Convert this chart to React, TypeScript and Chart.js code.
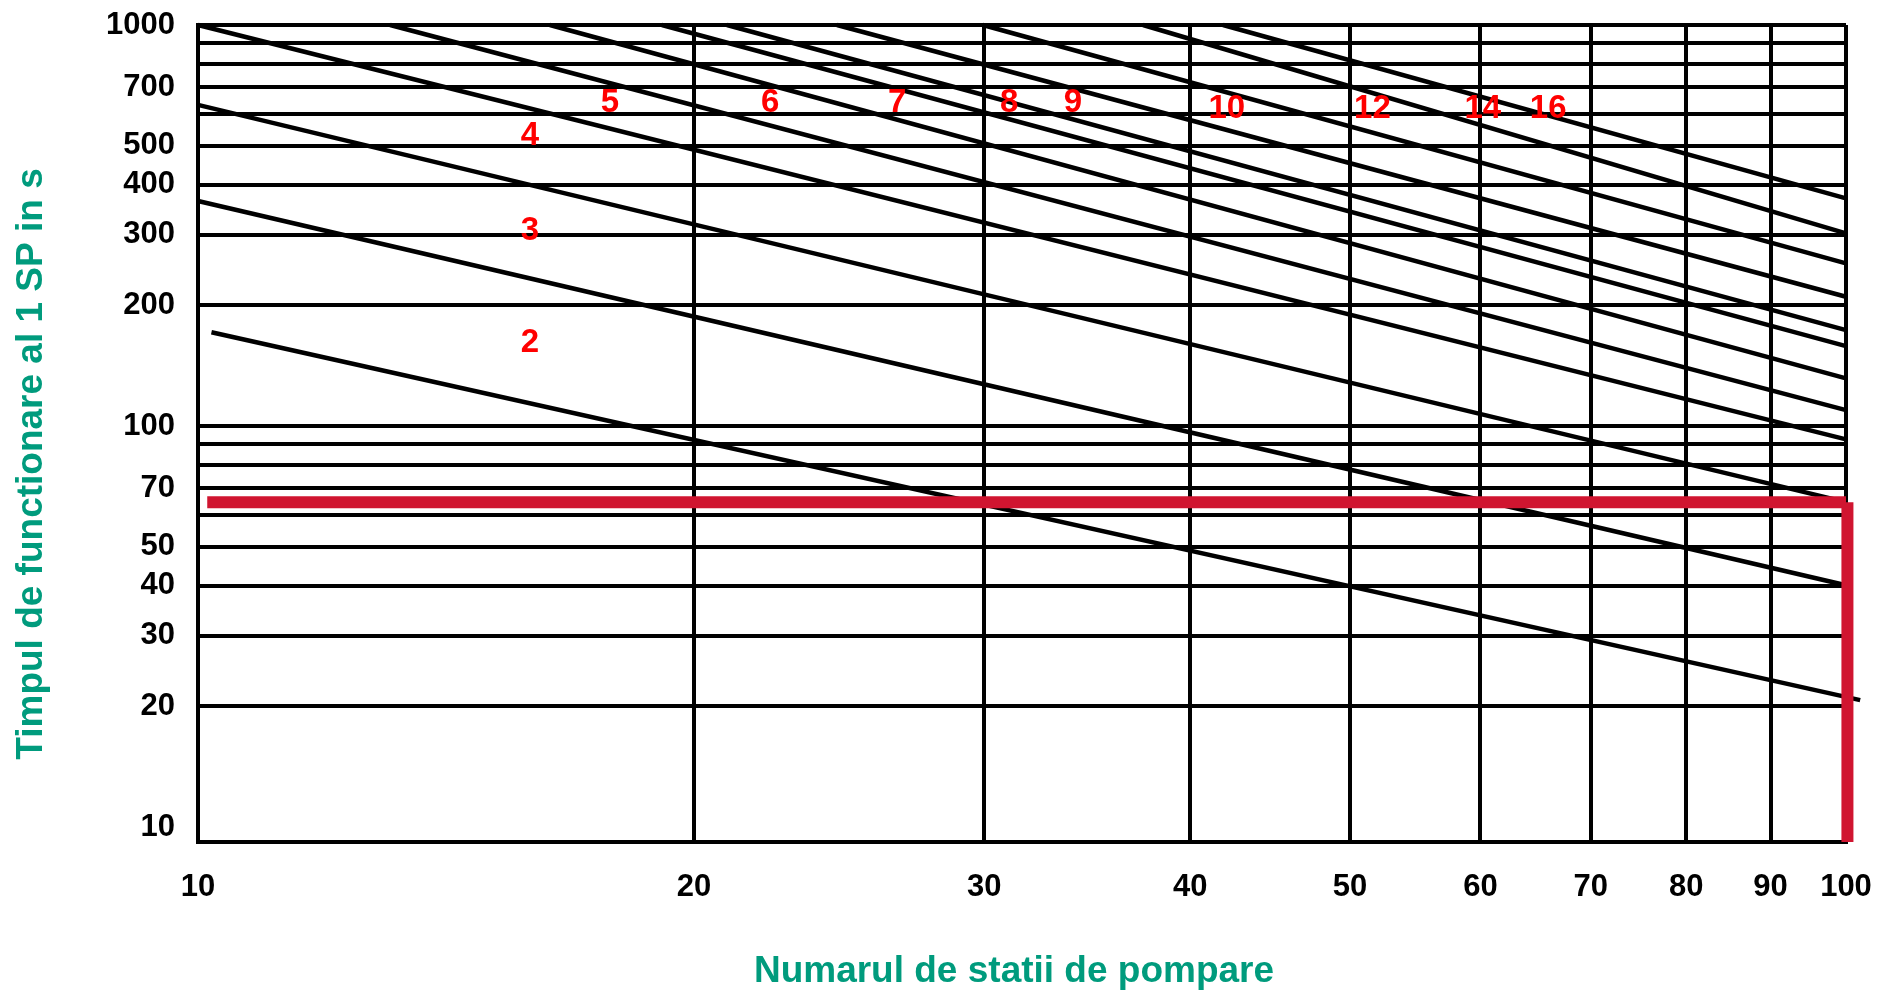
import React, { useEffect, useRef } from 'react';
import { Chart, registerables } from 'chart.js';

Chart.register(...registerables);

// ---- data ----
const CURVE_LABELS = ['2', '3', '4', '5', '6', '7', '8', '9', '10', '12', '14', '16'];
const START_X = [10.19, 10, 10, 10, 13.08, 16.35, 19.12, 20.94, 24.42, 29.94, 37.45, 41.88];
const START_Y = [171.3, 364, 632, 1000, 1000, 1000, 1000, 1000, 1000, 1000, 1000, 1000];
const END_X = [102, 100, 100, 100, 100, 100, 100, 100, 100, 100, 100, 100];
const END_Y = [20.73, 40.1, 64.6, 92.6, 109.6, 131.5, 158.3, 173.5, 210.1, 254.5, 302.3, 369.7];

const LABEL_X = [15.9, 15.9, 15.9, 17.78, 22.24, 26.56, 31.06, 33.96, 42.1, 51.6, 60.2, 65.96];
const LABEL_Y = [161, 306.4, 528.7, 639, 639, 639, 639, 639, 617, 617, 617, 617];

// red reading line (curve 4 at 100 stations)
const READING_H_X = [10.13, 100];
const READING_Y = 64.6;
const READING_V_X = 100.2;

const X_MIN = 10;
const X_MAX = 100;
const Y_MIN = 9.18;
const Y_MAX = 1000;

const X_TICKS = [10, 20, 30, 40, 50, 60, 70, 80, 90, 100];
const Y_TICKS = [10, 20, 30, 40, 50, 60, 70, 80, 90, 100, 200, 300, 400, 500, 600, 700, 800, 900, 1000];
const Y_TICK_LABELS = [10, 20, 30, 40, 50, 70, 100, 200, 300, 400, 500, 700, 1000];

const X_TITLE = 'Numarul de statii de pompare';
const Y_TITLE = 'Timpul de functionare al 1 SP in s';

const FONT_FAMILY = '"Liberation Sans", Arial, Helvetica, sans-serif';
const TEAL = 'rgb(0,155,125)';
const RED_TEXT = '#ff0000';
const RED_LINE = '#d01530';

const annotate = {
  id: 'annotate',
  afterDatasetsDraw(chart: any) {
    const { ctx } = chart;
    const x = chart.scales.x;
    const y = chart.scales.y;
    ctx.save();
    ctx.fillStyle = RED_TEXT;
    ctx.font = `bold 33px ${FONT_FAMILY}`;
    ctx.textAlign = 'center';
    ctx.textBaseline = 'middle';
    CURVE_LABELS.forEach((t, i) => {
      ctx.fillText(t, x.getPixelForValue(LABEL_X[i]), y.getPixelForValue(LABEL_Y[i]));
    });
    ctx.restore();
  },
  afterDraw(chart: any) {
    const { ctx } = chart;
    ctx.save();
    ctx.fillStyle = TEAL;
    ctx.font = `bold 37px ${FONT_FAMILY}`;
    ctx.textAlign = 'center';
    ctx.textBaseline = 'alphabetic';
    ctx.fillText(X_TITLE, 1014, 982);
    ctx.translate(42, 464);
    ctx.rotate(-Math.PI / 2);
    ctx.fillText(Y_TITLE, 0, 0);
    ctx.restore();
  },
};

export default function App() {
  const ref = useRef<HTMLCanvasElement>(null);

  useEffect(() => {
    const curves = CURVE_LABELS.map((name, i) => ({
      label: name,
      data: [
        { x: START_X[i], y: START_Y[i] },
        { x: END_X[i], y: END_Y[i] },
      ],
      borderColor: '#000',
      borderWidth: 4.5,
      pointRadius: 0,
      tension: 0,
      fill: false,
      clip: false as any,
      borderCapStyle: 'butt' as const,
    }));

    const reading = [
      {
        label: 'reading-h',
        data: [
          { x: READING_H_X[0], y: READING_Y },
          { x: READING_H_X[1], y: READING_Y },
        ],
        borderColor: RED_LINE,
        borderWidth: 12,
        pointRadius: 0,
        fill: false,
        clip: false as any,
        borderCapStyle: 'butt' as const,
      },
      {
        label: 'reading-v',
        data: [
          { x: READING_V_X, y: READING_Y },
          { x: READING_V_X, y: Y_MIN },
        ],
        borderColor: RED_LINE,
        borderWidth: 12,
        pointRadius: 0,
        fill: false,
        clip: false as any,
        borderCapStyle: 'butt' as const,
      },
    ];

    const chart = new Chart(ref.current as HTMLCanvasElement, {
      type: 'line',
      data: { datasets: [...reading, ...curves] as any },
      plugins: [annotate],
      options: {
        responsive: false,
        animation: false,
        layout: { padding: { top: 25, right: 40, left: 0, bottom: 0 } },
        plugins: {
          legend: { display: false },
          tooltip: { enabled: false },
          title: { display: false },
        },
        scales: {
          x: {
            type: 'logarithmic',
            min: X_MIN,
            max: X_MAX,
            afterFit: (s: any) => {
              s.height = 148;
              s.paddingLeft = 0;
              s.paddingRight = 0;
            },
            afterBuildTicks: (s: any) => {
              s.ticks = X_TICKS.map((v) => ({ value: v }));
            },
            ticks: {
              autoSkip: false,
              maxRotation: 0,
              minRotation: 0,
              padding: 27,
              color: '#000',
              font: { family: FONT_FAMILY, size: 31, weight: 'bold' },
              callback: (v: any) => String(v),
            },
            grid: { color: '#000', lineWidth: 4, drawTicks: false },
            border: { color: '#000', width: 4 },
          },
          y: {
            type: 'logarithmic',
            min: Y_MIN,
            max: Y_MAX,
            afterFit: (s: any) => {
              s.width = 198;
              s.paddingTop = 0;
              s.paddingBottom = 0;
            },
            afterBuildTicks: (s: any) => {
              s.ticks = Y_TICKS.map((v) => ({ value: v }));
            },
            ticks: {
              autoSkip: false,
              padding: 23,
              color: '#000',
              font: { family: FONT_FAMILY, size: 31, weight: 'bold' },
              callback: (v: any) => (Y_TICK_LABELS.includes(Number(v)) ? String(v) : ''),
            },
            grid: {
              color: (c: any) => (c.tick && c.tick.value === 10 ? 'rgba(0,0,0,0)' : '#000'),
              lineWidth: 4,
              drawTicks: false,
            },
            border: { color: '#000', width: 4 },
          },
        },
      } as any,
    });
    return () => chart.destroy();
  }, []);

  return (
    <div style={{ position: 'fixed', left: 0, top: 0, width: 1886, height: 990, background: '#fff' }}>
      <canvas ref={ref} width={1886} height={990} style={{ display: 'block', width: 1886, height: 990 }} />
    </div>
  );
}
